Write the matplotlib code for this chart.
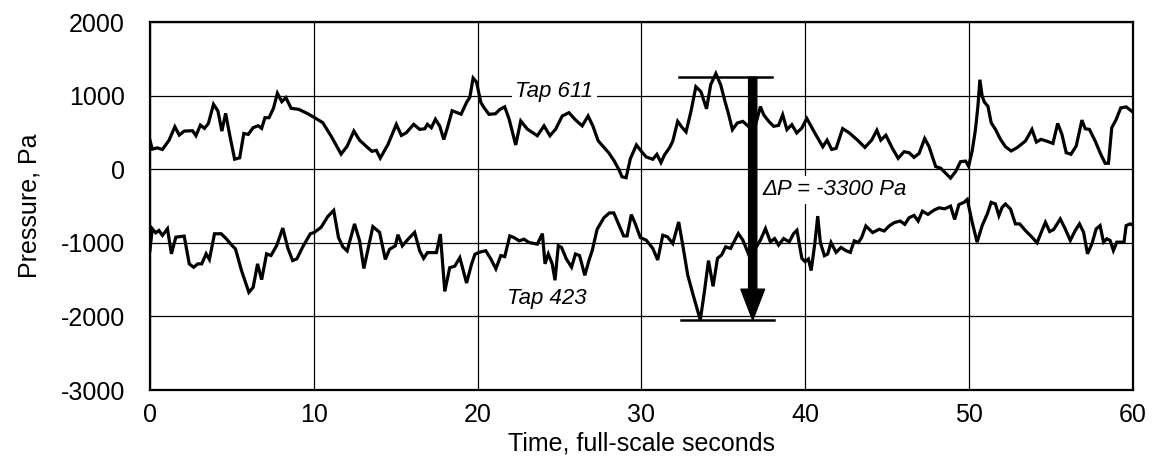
import matplotlib
matplotlib.use("Agg")
import matplotlib.pyplot as plt
from matplotlib.patches import FancyArrow

plt.rcParams["font.family"] = ["Liberation Sans", "DejaVu Sans"]
plt.rcParams["axes.unicode_minus"] = False  # scan uses plain hyphens

# ── Tap 611 (upper trace), time in full-scale seconds, pressure in Pa ──
t_611 = [0, 0.14, 0.45, 0.76, 1.17, 1.52, 1.79, 2.09, 2.6, 2.81, 3.08, 3.33, 3.57,
         3.88, 4.15, 4.39, 4.62, 4.87, 5.17, 5.48, 5.73, 6.0, 6.3, 6.61, 6.82, 7.02,
         7.27, 7.54, 7.78, 8.05, 8.3, 8.62, 9.08, 9.59, 10.04, 10.55, 11.06, 11.67,
         12.04, 12.45, 12.8, 13.2, 13.55, 13.82, 14.06, 14.53, 15.04, 15.35, 15.65,
         16.1, 16.47, 16.78, 16.94, 17.18, 17.43, 17.69, 17.94, 18.16, 18.45, 19.0,
         19.33, 19.53, 19.73, 19.94, 20.2, 20.4, 20.7, 21.1, 21.36, 21.66, 21.93,
         22.33, 22.64, 23.04, 23.35, 23.65, 24.06, 24.42, 24.77, 25.17, 25.58, 25.98,
         26.39, 26.75, 27.04, 27.36, 27.71, 28.01, 28.32, 28.62, 28.82, 29.07, 29.33,
         29.7, 30.04, 30.3, 30.7, 30.95, 31.2, 31.41, 31.72, 31.92, 32.22, 32.48,
         32.73, 33.03, 33.33, 33.64, 33.98, 34.24, 34.55, 34.85, 35.11, 35.31, 35.56,
         35.86, 36.2, 36.53, 36.9, 37.27, 37.47, 37.78, 38.08, 38.38, 38.63, 38.89,
         39.19, 39.49, 39.8, 40.1, 40.67, 41.08, 41.34, 41.62, 41.89, 42.29, 42.7,
         43.2, 43.65, 44.06, 44.38, 44.62, 44.93, 45.33, 45.68, 46.04, 46.35, 46.65,
         46.96, 47.3, 47.57, 47.97, 48.28, 48.58, 48.88, 49.19, 49.49, 49.8, 49.98,
         50.2, 50.4, 50.55, 50.67, 50.81, 50.95, 51.16, 51.36, 51.62, 51.93, 52.23,
         52.58, 52.94, 53.45, 53.85, 54.12, 54.4, 54.73, 55.13, 55.42, 55.68, 55.94,
         56.23, 56.55, 56.9, 57.1, 57.36, 57.71, 58.05, 58.32, 58.52, 58.72, 58.99,
         59.27, 59.6, 59.94]
p_611 = [395, 273, 290, 268, 395, 577, 464, 518, 523, 455, 600, 555, 623,
         882, 791, 518, 759, 464, 136, 155, 486, 473, 564, 591, 555, 700,
         700, 827, 1032, 918, 973, 827, 814, 759, 702, 633, 450, 206,
         312, 518, 394, 312, 243, 257, 151, 335, 610, 459, 495,
         610, 541, 550, 610, 564, 679, 587, 404, 564, 794, 748,
         908, 977, 1239, 1183, 908, 835, 746, 754, 812, 848, 679,
         330, 656, 545, 500, 455, 589, 455, 545, 723, 768, 670,
         589, 723, 589, 388, 299, 223, 121, 0, -103, -116, 143,
         330, 232, 166, 135, 202, 90, 193, 291, 381, 650, 570,
         507, 785, 1121, 1054, 821, 1152, 1300, 1143, 919, 762, 538,
         628, 650, 583, 540, 852, 740, 650, 583, 596, 740, 538,
         605, 493, 560, 690, 462, 305, 395, 269, 283, 552, 493,
         395, 296, 395, 529, 395, 462, 283, 148, 238, 224, 161,
         215, 417, 305, 36, 13, -54, -121, -31, 103, 110, 40,
         248, 541, 856, 1216, 991, 910, 856, 631, 541, 405, 306,
         248, 293, 383, 541, 369, 405, 383, 351, 622, 473, 225,
         203, 315, 667, 550, 541, 383, 203, 81, 81, 563, 676,
         833, 847, 788]

# ── Tap 423 (lower trace) ──
t_423 = [0, 0.14, 0.35, 0.55, 0.76, 1.07, 1.31, 1.58, 2.09, 2.4, 2.67, 2.92, 3.16,
         3.43, 3.63, 3.94, 4.35, 4.66, 5.01, 5.22, 5.59, 6.04, 6.3, 6.57, 6.82, 7.12,
         7.39, 7.74, 8.11, 8.42, 8.71, 8.97, 9.32, 9.79, 10.04, 10.45, 10.86, 11.22,
         11.51, 11.78, 12.04, 12.49, 12.8, 13.06, 13.27, 13.61, 14.02, 14.37, 14.63,
         14.98, 15.14, 15.41, 15.76, 16.16, 16.47, 16.71, 16.94, 17.49, 17.73, 18.0,
         18.3, 18.61, 18.92, 19.33, 19.63, 19.84, 20.1, 20.5, 20.81, 21.12, 21.42,
         21.66, 21.97, 22.23, 22.54, 22.84, 23.14, 23.65, 23.96, 24.12, 24.32, 24.56,
         24.73, 24.93, 25.13, 25.42, 25.74, 25.98, 26.23, 26.55, 26.8, 27.0, 27.3,
         27.71, 28.05, 28.32, 28.62, 28.92, 29.13, 29.39, 29.63, 29.94, 30.3, 30.7,
         31.0, 31.31, 31.6, 31.92, 32.28, 32.53, 32.83, 33.13, 33.6, 33.84, 34.1,
         34.38, 34.65, 34.9, 35.15, 35.45, 35.66, 35.92, 36.2, 36.57, 36.9, 37.27,
         37.58, 37.88, 38.14, 38.38, 38.69, 39.03, 39.3, 39.5, 39.8, 40.0, 40.2,
         40.37, 40.6, 40.77, 40.93, 41.18, 41.38, 41.58, 41.89, 42.19, 42.5, 42.76,
         43.0, 43.25, 43.45, 43.71, 44.12, 44.52, 44.83, 45.13, 45.44, 45.8, 46.09,
         46.35, 46.65, 46.9, 47.16, 47.5, 47.87, 48.17, 48.52, 48.88, 49.13, 49.39,
         49.7, 49.9, 50.2, 50.5, 50.81, 51.12, 51.36, 51.62, 51.83, 52.03, 52.23,
         52.54, 52.84, 53.1, 53.45, 53.85, 54.16, 54.46, 54.67, 54.93, 55.17, 55.58,
         55.88, 56.19, 56.49, 56.75, 57.0, 57.24, 57.51, 57.77, 58.01, 58.22, 58.42,
         58.62, 58.82, 59.03, 59.23, 59.47, 59.6, 59.84, 60.0]
p_423 = [-1105, -809, -864, -832, -900, -809, -1150, -923, -909, -1286, -1332, -1286, -1286,
         -1150, -1227, -877, -877, -945, -1036, -1082, -1377, -1673, -1605, -1286, -1500, -1150,
         -1173, -1036, -800, -1073, -1241, -1218, -1059, -877, -858, -789, -642, -560,
         -927, -1055, -1110, -743, -972, -1349, -1133, -780, -858, -1225, -1087,
         -1041, -890, -1041, -950, -858, -1110, -1211, -1133, -1133, -881, -1660,
         -1339, -1317, -1202, -1546, -1294, -1156, -1129, -1107, -1219, -1353, -1174,
         -1187, -906, -929, -973, -951, -996, -1018, -875, -1286, -1152, -1286,
         -1509, -1040, -1063, -1219, -1330, -1152, -1174, -1442, -1241, -1107, -817,
         -661, -594, -594, -750, -906, -906, -616, -741, -929, -964, -1076,
         -1233, -897, -919, -1009, -717, -1031, -1435, -1682, -2049, -1682, -1242,
         -1592, -1211, -1166, -1054, -1076, -987, -874, -964, -1166, -1100, -964,
         -807, -987, -942, -1031, -942, -987, -874, -830, -1211, -1256, -1220,
         -1377, -996, -637, -996, -1175, -1152, -996, -1130, -1063, -1108, -1130,
         -973, -996, -928, -771, -861, -816, -839, -771, -726, -704, -749,
         -659, -628, -704, -570, -614, -556, -525, -538, -502, -682, -480,
         -450, -410, -721, -991, -766, -608, -450, -473, -631, -518, -473,
         -541, -743, -743, -833, -923, -1000, -833, -721, -847, -820, -676,
         -811, -968, -833, -743, -856, -1149, -1014, -811, -766, -991, -946,
         -968, -1104, -991, -991, -991, -766, -743, -757]

x_ticks = [0, 10, 20, 30, 40, 50, 60]
y_ticks = [-3000, -2000, -1000, 0, 1000, 2000]

# peak-to-peak marker
dp_top = 1250
dp_bottom = -2050
dp_time = 36.8

fig = plt.figure(figsize=(11.57, 4.57), dpi=100)
ax = fig.add_axes([0.1296, 0.1466, 0.8494, 0.8052])

ax.plot(t_611, p_611, color="black", lw=2.3, solid_joinstyle="miter", zorder=3)
ax.plot(t_423, p_423, color="black", lw=2.3, solid_joinstyle="miter", zorder=3)

ax.set_xlim(0, 60)
ax.set_ylim(-3000, 2000)
ax.set_xticks(x_ticks)
ax.set_yticks(y_ticks)
ax.tick_params(length=0, labelsize=18)
ax.tick_params(axis="x", pad=9)
ax.tick_params(axis="y", pad=18)
ax.grid(True, color="black", lw=0.9)
ax.set_axisbelow(True)
for sp in ax.spines.values():
    sp.set_linewidth(1.6)

ax.set_xlabel("Time, full-scale seconds", fontsize=18)
ax.xaxis.set_label_coords(0.5, -0.112)
ax.set_ylabel("Pressure, Pa", fontsize=18, labelpad=14)

# delta-P marker lines and arrow
ax.plot([32.3, 38.0], [dp_top, dp_top], color="black", lw=1.8, zorder=4)
ax.plot([32.4, 38.1], [dp_bottom, dp_bottom], color="black", lw=1.8, zorder=4)
ax.add_patch(FancyArrow(dp_time, dp_top, 0, dp_bottom - dp_top, width=0.5,
                        head_width=1.45, head_length=420,
                        length_includes_head=True, color="black", zorder=5))

box = dict(boxstyle="square,pad=0.15", fc="white", ec="none")
ax.text(22.3, 1050, "Tap 611", style="italic", fontsize=16, va="center",
        ha="left", bbox=box, zorder=2)
ax.text(21.8, -1750, "Tap 423", style="italic", fontsize=16, va="center",
        ha="left", zorder=2)
ax.text(37.4, -280, "ΔP = -3300 Pa", style="italic", fontsize=16, va="center",
        ha="left", bbox=box, zorder=2)

fig.savefig("out.png", dpi=100)
